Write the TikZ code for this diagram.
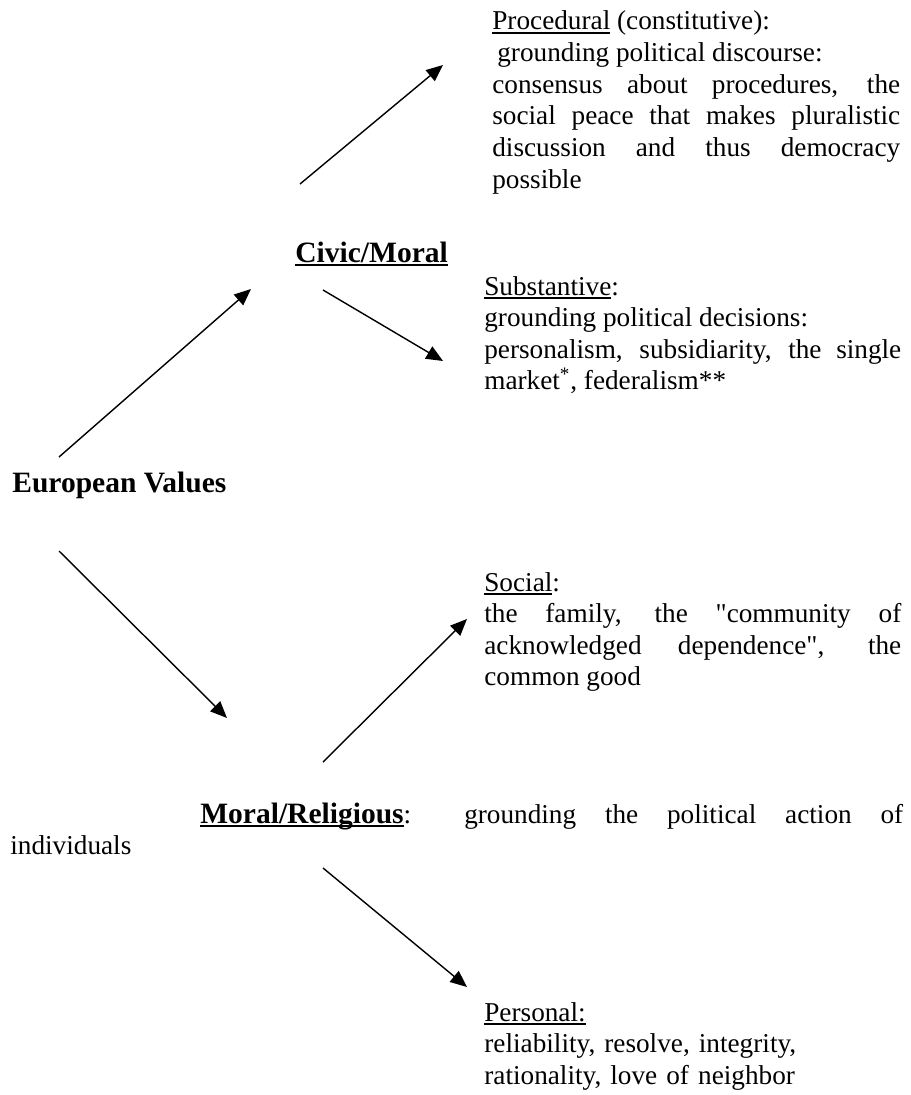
\documentclass[tikz,border=0pt]{standalone}
\usepackage{fontspec}
\setmainfont{Liberation Serif}
\usetikzlibrary{arrows.meta,positioning}
\newcommand{\undl}[2][0.7pt]{\leavevmode\setbox0=\hbox{#2}\rlap{\rule[-2pt]{\wd0}{#1}}\box0\relax}
\newcommand{\bigbf}{\fontsize{16.8}{18}\selectfont\bfseries}

\begin{document}
\begin{tikzpicture}[
    x=0.02cm, y=-0.02cm,
    txt/.style={inner sep=0pt, anchor=base west, font=\fontsize{15.5}{18}\selectfont},
    title/.style={txt, font=\bigbf},
    block/.style={txt, align=justify, text width=#1},
    arrow/.style={-{Triangle[length=9.5pt, width=8pt]}, line width=0.8pt},
]
    \useasboundingbox (0,0) rectangle (911,1095);

    % Main headings
    \node[title] (euro) at (12,492) {European Values};
    \node[title] (civic) at (295,262) {\undl[1.1pt]{Civic/Moral}};
    \node[block=17.86cm] (morrel) at (10,823) {\hspace*{3.8cm}\undl[1.1pt]{\bigbf Moral/Religious}: grounding the political action of\linebreak individuals};

    % Value blocks
    \node[block=8.16cm] (proc) at (492,30) {\undl{Procedural} (constitutive):\\
        \hspace*{0.1cm}grounding political discourse:\\
        consensus about procedures, the\linebreak social peace that makes pluralistic\linebreak discussion and thus democracy\linebreak possible};
    \node[block=8.34cm] (subst) at (484,295) {\undl{Substantive}:\\
        grounding political decisions:\\
        personalism, subsidiarity, the single\linebreak market\textsuperscript{*}, federalism**};
    \node[block=8.34cm] (social) at (484,591) {\undl{Social}:\\
        the family, the \textquotedbl community of\linebreak acknowledged dependence\textquotedbl, the\linebreak common good};
    \node[block=8.34cm, align=left] (personal) at (484,1021) {\undl{Personal:}\\
        reliability, resolve, integrity,\\
        rationality, love of neighbor};

    % Arrow ends
    \coordinate (euro-up) at (59,457);
    \coordinate (civic-in) at (251,289);
    \coordinate (euro-down) at (59,551);
    \coordinate (morrel-in) at (227,718);
    \coordinate (civic-up) at (300,184);
    \coordinate (proc-in) at (443,65);
    \coordinate (civic-down) at (323,290);
    \coordinate (subst-in) at (443,361);
    \coordinate (morrel-up) at (323,762);
    \coordinate (social-in) at (467,619);
    \coordinate (morrel-down) at (323,868);
    \coordinate (personal-in) at (467,987);

    % Arrows
    \draw[arrow] (euro-up) -- (civic-in);
    \draw[arrow] (euro-down) -- (morrel-in);
    \draw[arrow] (civic-up) -- (proc-in);
    \draw[arrow] (civic-down) -- (subst-in);
    \draw[arrow] (morrel-up) -- (social-in);
    \draw[arrow] (morrel-down) -- (personal-in);
\end{tikzpicture}
\end{document}
